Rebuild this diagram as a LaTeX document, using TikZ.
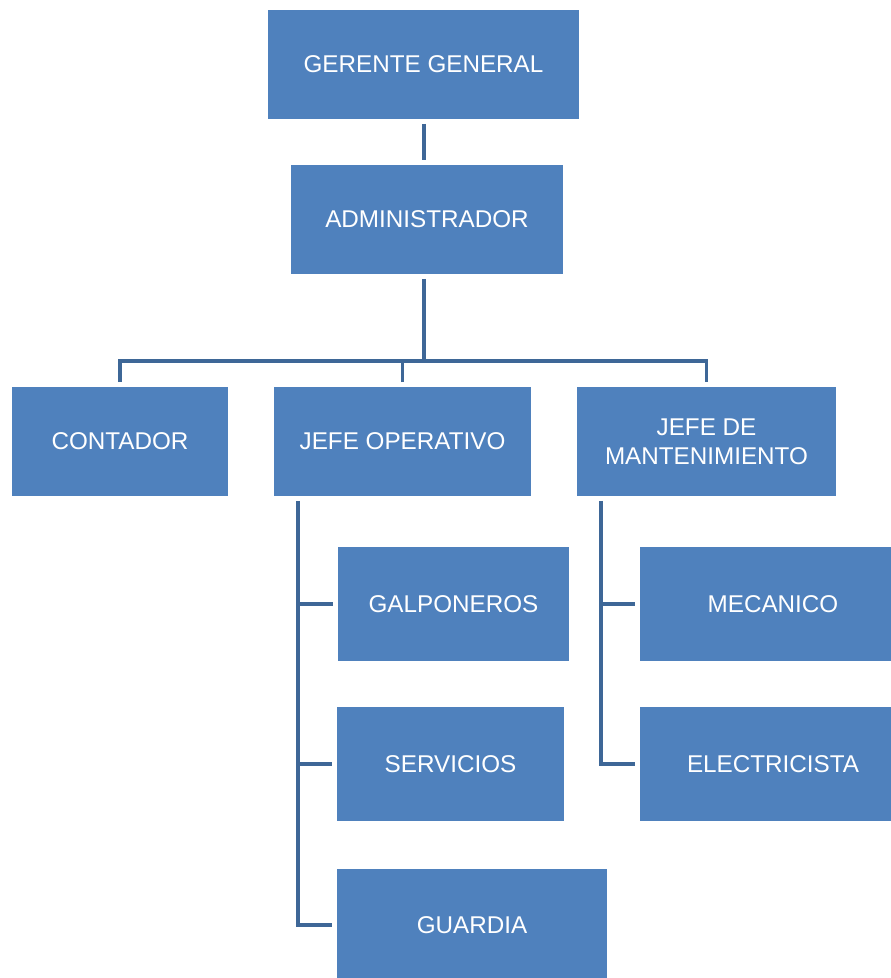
\documentclass[tikz,border=0pt]{standalone}
\usepackage{fontspec}
\setmainfont{Liberation Sans}
\usepackage{tikz}
\definecolor{boxblue}{HTML}{4F81BD}
\definecolor{lineblue}{HTML}{3E6797}

\begin{document}
\begin{tikzpicture}[x=0.02cm, y=-0.02cm,
    cargo/.style={fill=boxblue, text=white, inner sep=0pt, outer sep=0.1cm,
      minimum height=2.18cm, align=center,
      font=\fontsize{13.8}{16.5}\selectfont},
    link/.style={draw=lineblue, line width=2.2pt}]
    \clip (0,0) rectangle (891,978);

    \node[cargo, minimum width=6.22cm] (ger) at (423.5,64.5) {GERENTE GENERAL};
    \node[cargo, minimum width=5.44cm] (adm) at (427,219.5) {ADMINISTRADOR};

    \node[cargo, minimum width=4.32cm] (cont) at (120,441.5) {CONTADOR};
    \node[cargo, minimum width=5.14cm] (jop) at (402.5,441.5) {JEFE OPERATIVO};
    \node[cargo, minimum width=5.18cm] (mant) at (706.5,441.5) {JEFE DE\\MANTENIMIENTO};

    \node[cargo, minimum width=4.62cm, minimum height=2.28cm] (galp) at (453.5,604) {GALPONEROS};
    \node[cargo, minimum width=4.54cm, minimum height=2.28cm] (serv) at (450.5,764) {SERVICIOS};
    \node[cargo, minimum width=5.40cm, minimum height=2.24cm] (guar) at (472,925) {GUARDIA};
    \node[cargo, minimum width=5.32cm, minimum height=2.28cm] (mec) at (773,604) {MECANICO};
    \node[cargo, minimum width=5.32cm, minimum height=2.28cm] (elec) at (773,764) {ELECTRICISTA};

    \coordinate (bus) at (424,361);
    \coordinate (opbus) at (298,0);
    \coordinate (mtbus) at (601,0);

    \draw[link] (ger.south -| bus) -- (adm.north -| bus);
    \draw[link] (adm.south -| bus) -- (bus);
    \draw[link] (cont.north) |- (bus) -| (mant.north);
    \draw[link] (jop.north) -- (jop.north |- bus);

    \draw[link] (opbus |- jop.south) |- (guar.west);
    \draw[link] (opbus |- galp.west) -- (galp.west);
    \draw[link] (opbus |- serv.west) -- (serv.west);

    \draw[link] (mtbus |- mant.south) |- (elec.west);
    \draw[link] (mtbus |- mec.west) -- (mec.west);
\end{tikzpicture}
\end{document}
